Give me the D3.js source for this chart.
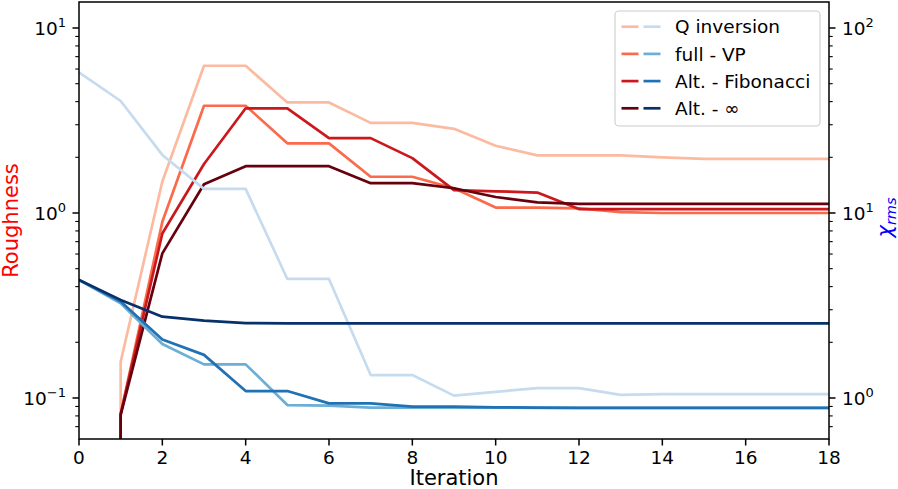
<!DOCTYPE html>
<html><head><meta charset="utf-8">
<script src="https://cdn.jsdelivr.net/npm/d3@7"></script>
<style>
body{margin:0;background:#fff}
svg{display:block}
text{font-family:"DejaVu Sans",sans-serif;fill:#000}
</style>
</head><body>
<svg id="chart" width="898" height="489"></svg>
<script>
// ---------------- data ----------------
const iterations = [0,1,2,3,4,5,6,7,8,9,10,11,12,13,14,15,16,17,18];
const xTickValues = [0,2,4,6,8,10,12,14,16,18];
const seriesNames = ["Q inversion","full - VP","Alt. - Fibonacci","Alt. - \u221e"];

// Roughness (left axis, log). 0 at iteration 0 (clipped off the log axis)
const roughQ   = [0, 0.157, 1.48, 6.25, 6.25, 3.96, 3.96, 3.07, 3.07, 2.85, 2.31, 2.05, 2.05, 2.05, 2.00, 1.96, 1.96, 1.96, 1.96];
const roughVP  = [0, 0.082, 0.897, 3.80, 3.80, 2.38, 2.38, 1.57, 1.57, 1.36, 1.07, 1.07, 1.06, 1.01, 1.00, 1.00, 1.00, 1.00, 1.00];
const roughFib = [0, 0.082, 0.775, 1.84, 3.68, 3.68, 2.54, 2.54, 1.98, 1.33, 1.31, 1.29, 1.05, 1.05, 1.05, 1.05, 1.05, 1.05, 1.05];
const roughInf = [0, 0.081, 0.605, 1.43, 1.79, 1.79, 1.79, 1.45, 1.45, 1.36, 1.22, 1.14, 1.12, 1.12, 1.12, 1.12, 1.12, 1.12, 1.12];

// chi_rms (right axis, log)
const chiQ   = [57.5, 40.3, 20.6, 13.5, 13.5, 4.40, 4.40, 1.33, 1.33, 1.03, 1.08, 1.13, 1.13, 1.04, 1.05, 1.05, 1.05, 1.05, 1.05];
const chiVP  = [4.35, 3.25, 1.96, 1.52, 1.52, 0.916, 0.910, 0.887, 0.887, 0.887, 0.887, 0.885, 0.885, 0.885, 0.885, 0.885, 0.885, 0.885, 0.885];
const chiFib = [4.35, 3.32, 2.07, 1.71, 1.09, 1.09, 0.935, 0.935, 0.897, 0.897, 0.890, 0.887, 0.885, 0.885, 0.885, 0.885, 0.885, 0.885, 0.885];
const chiInf = [4.35, 3.39, 2.75, 2.62, 2.54, 2.53, 2.53, 2.53, 2.53, 2.53, 2.53, 2.53, 2.53, 2.53, 2.53, 2.53, 2.53, 2.53, 2.53];

const leftMajor  = [0.1, 1, 10];
const leftMajorExp = ["\u22121", "0", "1"];
const rightMajor = [1, 10, 100];
const rightMajorExp = ["0", "1", "2"];

const redColors  = ["#fcbba1", "#fb6a4a", "#cb181d", "#67000d"];
const blueColors = ["#c6dbef", "#6baed6", "#2171b5", "#08306b"];

// ---------------- layout ----------------
const L = 79, R = 829, T = 2, B = 439;
const fs = 18.5, fsLab = 21;
const svg = d3.select("#chart");

const x  = d3.scaleLinear().domain([0, 18]).range([L, R]);
const yL = d3.scaleLog().domain([0.06002, 13.82]).range([B, T]);
const yR = d3.scaleLog().domain([0.6002, 138.2]).range([B, T]);

svg.append("defs").append("clipPath").attr("id", "clip")
  .append("rect").attr("x", L).attr("y", T).attr("width", R - L).attr("height", B - T);

const plot = svg.append("g").attr("clip-path", "url(#clip)");

const lineL = d3.line().x((d, i) => x(iterations[i])).y(d => yL(Math.max(d, 1e-300)));
const lineR = d3.line().x((d, i) => x(iterations[i])).y(d => yR(Math.max(d, 1e-300)));

const roughSeries = [roughQ, roughVP, roughFib, roughInf];
const chiSeries = [chiQ, chiVP, chiFib, chiInf];

roughSeries.forEach((s, k) => {
  plot.append("path").attr("d", lineL(s)).attr("fill", "none")
    .attr("stroke", redColors[k]).attr("stroke-width", 2.7)
    .attr("stroke-linejoin", "round").attr("stroke-linecap", "butt");
});
chiSeries.forEach((s, k) => {
  plot.append("path").attr("d", lineR(s)).attr("fill", "none")
    .attr("stroke", blueColors[k]).attr("stroke-width", 2.7)
    .attr("stroke-linejoin", "round").attr("stroke-linecap", "butt");
});

// ---------------- axes ----------------
const majLen = 6.5, minLen = 3.7;
const axes = svg.append("g");

function minorTicks(scale) {
  const [a, b] = scale.domain();
  const out = [];
  for (let e = Math.floor(Math.log10(a)); e <= Math.ceil(Math.log10(b)); e++) {
    for (let m = 2; m <= 9; m++) {
      const v = m * Math.pow(10, e);
      if (v >= a && v <= b) out.push(v);
    }
  }
  return out;
}

// x ticks
xTickValues.forEach(v => {
  axes.append("line").attr("x1", x(v)).attr("x2", x(v)).attr("y1", B).attr("y2", B + majLen)
    .attr("stroke", "#000").attr("stroke-width", 1.5);
  axes.append("text").attr("x", x(v)).attr("y", 463.5).attr("text-anchor", "middle")
    .attr("font-size", fs).text(v);
});

// left ticks
minorTicks(yL).forEach(v => {
  axes.append("line").attr("x1", L - minLen).attr("x2", L).attr("y1", yL(v)).attr("y2", yL(v))
    .attr("stroke", "#000").attr("stroke-width", 1.1);
});
leftMajor.forEach((v, i) => {
  axes.append("line").attr("x1", L - majLen).attr("x2", L).attr("y1", yL(v)).attr("y2", yL(v))
    .attr("stroke", "#000").attr("stroke-width", 1.5);
  const t = axes.append("text").attr("x", L - majLen - 6.5).attr("y", yL(v) + 6.8)
    .attr("text-anchor", "end").attr("font-size", fs);
  t.append("tspan").text("10");
  t.append("tspan").attr("dy", -7.5).attr("font-size", 13).text(leftMajorExp[i]);
});

// right ticks
minorTicks(yR).forEach(v => {
  axes.append("line").attr("x1", R).attr("x2", R + minLen).attr("y1", yR(v)).attr("y2", yR(v))
    .attr("stroke", "#000").attr("stroke-width", 1.1);
});
rightMajor.forEach((v, i) => {
  axes.append("line").attr("x1", R).attr("x2", R + majLen).attr("y1", yR(v)).attr("y2", yR(v))
    .attr("stroke", "#000").attr("stroke-width", 1.5);
  const t = axes.append("text").attr("x", R + majLen + 6.5).attr("y", yR(v) + 6.8)
    .attr("text-anchor", "start").attr("font-size", fs);
  t.append("tspan").text("10");
  t.append("tspan").attr("dy", -7.5).attr("font-size", 13).text(rightMajorExp[i]);
});

// frame
axes.append("rect").attr("x", L).attr("y", T).attr("width", R - L).attr("height", B - T)
  .attr("fill", "none").attr("stroke", "#000").attr("stroke-width", 1.5);

// axis labels
svg.append("text").attr("x", (L + R) / 2).attr("y", 484.5).attr("text-anchor", "middle")
  .attr("font-size", fsLab).text("Iteration");

svg.append("text").attr("transform", `translate(18,${(T + B) / 2}) rotate(-90)`)
  .attr("text-anchor", "middle").attr("font-size", fsLab).style("fill", "#ff0000").text("Roughness");

const chiLab = svg.append("text").attr("transform", `translate(892,${(T + B) / 2 - 3}) rotate(-90)`)
  .attr("text-anchor", "middle").attr("font-size", fsLab).style("fill", "#0000ff");
chiLab.append("tspan").attr("font-style", "italic").text("\u03c7");
chiLab.append("tspan").attr("font-style", "italic").attr("font-size", 14.5).attr("dy", 4).text("rms");

// ---------------- legend ----------------
const lg = svg.append("g");
lg.append("rect").attr("x", 615).attr("y", 11).attr("width", 205).attr("height", 115)
  .attr("rx", 3.7).attr("fill", "#fff").attr("fill-opacity", 0.8)
  .attr("stroke", "#cccccc").attr("stroke-width", 1.1);
seriesNames.forEach((name, k) => {
  const cy = 26.7 + k * 27.2;
  lg.append("line").attr("x1", 621.5).attr("x2", 638.5).attr("y1", cy).attr("y2", cy)
    .attr("stroke", redColors[k]).attr("stroke-width", 2.7);
  lg.append("line").attr("x1", 643.5).attr("x2", 660.5).attr("y1", cy).attr("y2", cy)
    .attr("stroke", blueColors[k]).attr("stroke-width", 2.7);
  lg.append("text").attr("x", 675).attr("y", cy + 6.7).attr("font-size", fs).text(name);
});
</script>
</body></html>
